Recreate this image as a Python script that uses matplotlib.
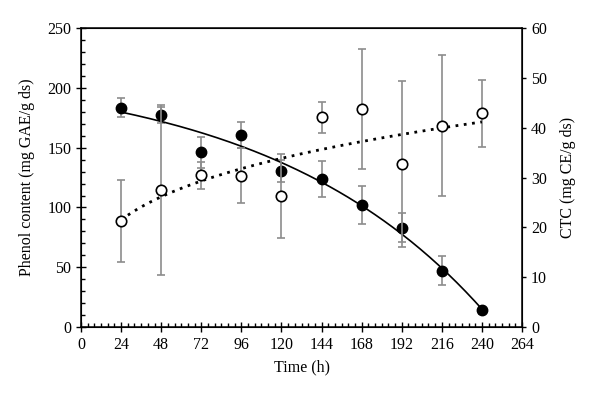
import numpy as np
import matplotlib
matplotlib.use("Agg")
import matplotlib.pyplot as plt
from matplotlib.ticker import MultipleLocator

plt.rcParams['font.family'] = ['Liberation Serif', 'DejaVu Serif']

# time points (h)
time = [24, 48, 72, 96, 120, 144, 168, 192, 216, 240]

# phenol content (left axis), filled circles
phenol = [183.4, 177.3, 146.1, 160.5, 130.4, 123.5, 102.0, 83.0, 47.1, 14.2]
phenol_err = [8, 7, 13, 11, 9, 15, 16, 12, 12, 3]

# CTC (right axis), open circles
ctc = [21.3, 27.5, 30.5, 30.4, 26.3, 42.1, 43.8, 32.7, 40.4, 42.9]
ctc_err = [8.2, 17, 2.7, 5.5, 8.4, 3.1, 12, 16.6, 14.1, 6.7]

t = np.array(time, dtype=float)
tt = np.linspace(24, 240, 200)


def exp_fit(x, y):
    # y = a - b*exp(c*x), least squares over a grid of c
    best = None
    for c in np.linspace(0.001, 0.05, 500):
        A = np.column_stack([np.ones_like(x), -np.exp(c * x)])
        coef, res, _, _ = np.linalg.lstsq(A, y, rcond=None)
        err = np.sum((A @ coef - y) ** 2)
        if best is None or err < best[0]:
            best = (err, coef[0], coef[1], c)
    return best[1:]


a, b, c = exp_fit(t, np.array(phenol))
c_fit = np.polyfit(np.log(t), np.log(ctc), 1)

fig = plt.figure(figsize=(6, 3.99), dpi=100)
ax = fig.add_axes([0.135, 0.18, 0.735, 0.75])
ax2 = ax.twinx()

ax.plot(tt, a - b * np.exp(c * tt), color='black', lw=1.2, zorder=2)
ax.errorbar(time, phenol, yerr=phenol_err, fmt='none', ecolor='#8c8c8c',
            elinewidth=1.2, capsize=3, capthick=1.2, zorder=1)
ax.plot(time, phenol, 'o', ms=7.5, mfc='black', mec='black', zorder=3)

ax2.plot(tt, np.exp(np.polyval(c_fit, np.log(tt))), color='black', lw=2,
         linestyle=(0, (1, 2)), zorder=2)
ax2.errorbar(time, ctc, yerr=ctc_err, fmt='none', ecolor='#8c8c8c',
             elinewidth=1.2, capsize=3, capthick=1.2, zorder=1)
ax2.plot(time, ctc, 'o', ms=7.5, mfc='white', mec='black', mew=1.2, zorder=3)

ax.set_xlim(0, 264)
ax.set_ylim(0, 250)
ax2.set_ylim(0, 60)
ax.xaxis.set_major_locator(MultipleLocator(24))
ax.xaxis.set_minor_locator(MultipleLocator(4))
ax.yaxis.set_major_locator(MultipleLocator(50))
ax.yaxis.set_minor_locator(MultipleLocator(10))
ax2.yaxis.set_major_locator(MultipleLocator(10))

ax.tick_params(axis='both', which='major', direction='inout', length=7,
               width=1, labelsize=11.5, top=False)
ax.tick_params(axis='both', which='minor', direction='in', length=3, width=1)
ax2.tick_params(axis='y', which='major', direction='out', length=3,
                width=1, labelsize=11.5)

for s in ax2.spines.values():
    s.set_linewidth(1.1)

ax.set_xlabel('Time (h)', fontsize=11.5, labelpad=5)
ax.set_ylabel('Phenol content (mg GAE/g ds)', fontsize=11.5, labelpad=9)
ax2.set_ylabel('CTC (mg CE/g ds)', fontsize=11.5, labelpad=9)

fig.savefig('out.png', dpi=100)
